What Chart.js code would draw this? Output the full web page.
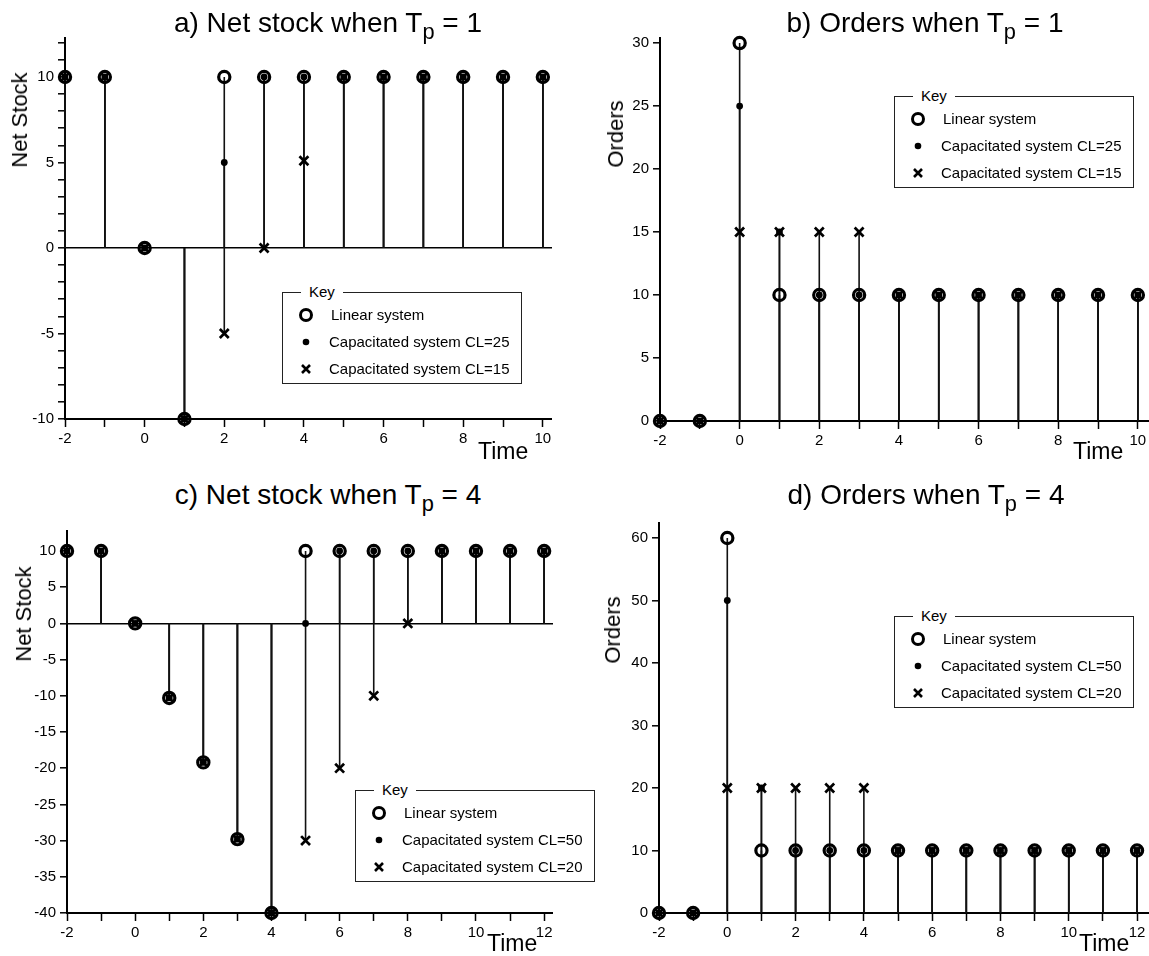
<!DOCTYPE html>
<html>
<head>
<meta charset="utf-8">
<script src="https://cdn.jsdelivr.net/npm/chart.js@4.4.1/dist/chart.umd.min.js"></script>
<style>
  body { margin: 0; background: #fff; }
  #fig { position: relative; width: 1149px; height: 956px; font-family: Arial, "Liberation Sans", sans-serif; color: #000; }
  canvas { position: absolute; }
  .title { position: absolute; font-size: 28px; line-height: 28px; white-space: nowrap; transform: translateX(-50%); }
  .title sub { font-size: 0.78em; vertical-align: -0.3em; line-height: 0; }
  .ylab { position: absolute; font-size: 22px; line-height: 22px; white-space: nowrap; transform: translate(-50%, -50%) rotate(-90deg); }
  .xlab { position: absolute; font-size: 23px; line-height: 23px; white-space: nowrap; }
  .key { position: absolute; width: 240px; height: 92px; border: 1px solid #222; box-sizing: border-box; font-size: 15px; }
  .key .kt { position: absolute; left: 18px; top: -10px; background: #fff; padding: 0 8px; line-height: 18px; }
  .key .row { position: absolute; left: 0; height: 20px; line-height: 20px; white-space: nowrap; }
  .key svg { position: absolute; left: 12px; top: 0; }
  .key span { position: absolute; top: 0; }
</style>
</head>
<body>
<div id="fig">
  <canvas id="chartA"></canvas>
  <canvas id="chartB"></canvas>
  <canvas id="chartC"></canvas>
  <canvas id="chartD"></canvas>

  <div class="title" style="left:328px; top:9px;">a) Net stock when T<sub>p</sub> = 1</div>
  <div class="title" style="left:925px; top:9px;">b) Orders when T<sub>p</sub> = 1</div>
  <div class="title" style="left:328px; top:481px;">c) Net stock when T<sub>p</sub> = 4</div>
  <div class="title" style="left:926px; top:481px;">d) Orders when T<sub>p</sub> = 4</div>

  <div class="ylab" style="left:20px; top:120px;">Net Stock</div>
  <div class="ylab" style="left:616px; top:134px;">Orders</div>
  <div class="ylab" style="left:24px; top:614px;">Net Stock</div>
  <div class="ylab" style="left:613px; top:630px;">Orders</div>

  <div class="xlab" style="left:478px; top:440px;">Time</div>
  <div class="xlab" style="left:1073px; top:440px;">Time</div>
  <div class="xlab" style="left:487px; top:932px;">Time</div>
  <div class="xlab" style="left:1079px; top:932px;">Time</div>

  <div class="key" id="keyA" style="left:282px; top:292px;"></div>
  <div class="key" id="keyB" style="left:894px; top:96px;"></div>
  <div class="key" id="keyC" style="left:355px; top:790px;"></div>
  <div class="key" id="keyD" style="left:894px; top:616px;"></div>
</div>

<script>
// time axis
const timesTp1 = [-2, -1, 0, 1, 2, 3, 4, 5, 6, 7, 8, 9, 10];
const timesTp4 = [-2, -1, 0, 1, 2, 3, 4, 5, 6, 7, 8, 9, 10, 11, 12];

// a) net stock, Tp = 1
const netStockTp1Linear = [10, 10, 0, -10, 10, 10, 10, 10, 10, 10, 10, 10, 10];
const netStockTp1CL25   = [10, 10, 0, -10, 5, 10, 10, 10, 10, 10, 10, 10, 10];
const netStockTp1CL15   = [10, 10, 0, -10, -5, 0, 5.1, 10, 10, 10, 10, 10, 10];

// b) orders, Tp = 1
const ordersTp1Linear = [0, 0, 30, 10, 10, 10, 10, 10, 10, 10, 10, 10, 10];
const ordersTp1CL25   = [0, 0, 25, 15, 10, 10, 10, 10, 10, 10, 10, 10, 10];
const ordersTp1CL15   = [0, 0, 15, 15, 15, 15, 10, 10, 10, 10, 10, 10, 10];

// c) net stock, Tp = 4
const netStockTp4Linear = [10, 10, 0, -10.3, -19.2, -29.8, -40, 10, 10, 10, 10, 10, 10, 10, 10];
const netStockTp4CL50   = [10, 10, 0, -10.3, -19.2, -29.8, -40, 0, 10, 10, 10, 10, 10, 10, 10];
const netStockTp4CL20   = [10, 10, 0, -10.3, -19.2, -29.8, -40, -30, -20, -10, 0, 10, 10, 10, 10];

// d) orders, Tp = 4
const ordersTp4Linear = [0, 0, 60, 10, 10, 10, 10, 10, 10, 10, 10, 10, 10, 10, 10];
const ordersTp4CL50   = [0, 0, 50, 20, 10, 10, 10, 10, 10, 10, 10, 10, 10, 10, 10];
const ordersTp4CL20   = [0, 0, 20, 20, 20, 20, 20, 10, 10, 10, 10, 10, 10, 10, 10];

const keyLabelsTp1 = ["Linear system", "Capacitated system CL=25", "Capacitated system CL=15"];
const keyLabelsTp4 = ["Linear system", "Capacitated system CL=50", "Capacitated system CL=20"];

const FONT = "Arial, 'Liberation Sans', sans-serif";
const Y_AXIS_W = 50;
const X_AXIS_H = 30;
const PAD_TOP = 12;

// vertical stem from 0 to each value, broken with null between stems
const stemPoints = (times, values) => {
  const pts = [];
  times.forEach((t, i) => {
    pts.push({ x: t, y: 0 }, { x: t, y: values[i] }, { x: t, y: null });
  });
  return pts;
};

const markerPoints = (times, values) => times.map((t, i) => ({ x: t, y: values[i] }));

const makePanel = (id, area, times, linear, capA, capB, xMax, yMin, yMax, yStep, yLabelEvery) => {
  const canvas = document.getElementById(id);
  const left = area.left - Y_AXIS_W;
  const top = area.top - PAD_TOP;
  canvas.style.left = left + "px";
  canvas.style.top = top + "px";
  canvas.width = area.right - left;
  canvas.height = area.bottom - top + X_AXIS_H;

  const stem = (values) => ({
    data: stemPoints(times, values),
    showLine: true,
    spanGaps: false,
    borderColor: "#111",
    borderWidth: 1.6,
    pointRadius: 0,
    clip: false,
  });

  new Chart(canvas, {
    type: "scatter",
    data: {
      datasets: [
        // drawn on top first
        {
          data: markerPoints(times, capB),
          pointStyle: "crossRot",
          pointRadius: 6.3,
          borderWidth: 2.7,
          borderColor: "#000",
          backgroundColor: "#000",
          clip: false,
        },
        {
          data: markerPoints(times, capA),
          pointStyle: "circle",
          pointRadius: 3.4,
          borderWidth: 0,
          backgroundColor: "#000",
          clip: false,
        },
        {
          data: markerPoints(times, linear),
          pointStyle: "circle",
          pointRadius: 5.6,
          borderWidth: 3.2,
          borderColor: "#000",
          backgroundColor: "rgba(0,0,0,0)",
          clip: false,
        },
        stem(linear),
        stem(capA),
        stem(capB),
      ],
    },
    options: {
      responsive: false,
      animation: false,
      events: [],
      layout: { padding: { top: PAD_TOP, left: 0, right: 0, bottom: 0 }, autoPadding: false },
      plugins: { legend: { display: false }, tooltip: { enabled: false } },
      scales: {
        x: {
          type: "linear",
          min: -2,
          max: xMax,
          afterFit: (s) => { s.height = X_AXIS_H; s.paddingLeft = 0; s.paddingRight = 0; },
          ticks: {
            stepSize: 1,
            includeBounds: false,
            autoSkip: false,
            maxRotation: 0,
            padding: 3,
            color: "#000",
            font: { family: FONT, size: 15 },
            callback: (v) => (v % 2 === 0 ? String(v) : ""),
          },
          grid: { drawOnChartArea: false, tickLength: 8, tickColor: "#000", tickWidth: 1.5 },
          border: { color: "#000", width: 2 },
        },
        y: {
          min: yMin,
          max: yMax,
          afterFit: (s) => { s.width = Y_AXIS_W; s.paddingTop = 0; s.paddingBottom = 0; },
          ticks: {
            stepSize: yStep,
            includeBounds: false,
            autoSkip: false,
            padding: 4,
            color: "#000",
            font: { family: FONT, size: 15 },
            callback: (v) => (v % yLabelEvery === 0 ? String(v) : ""),
          },
          grid: {
            color: (ctx) => (ctx.tick && ctx.tick.value === 0 ? "#000" : "rgba(0,0,0,0)"),
            lineWidth: 1.6,
            tickLength: 7,
            tickColor: "#000",
            tickWidth: 1.5,
          },
          border: { color: "#000", width: 2 },
        },
      },
    },
  });
};

makePanel("chartA", { left: 65, top: 38, right: 552, bottom: 419 }, timesTp1,
  netStockTp1Linear, netStockTp1CL25, netStockTp1CL15, 10.23, -10, 12.28, 1, 5);
makePanel("chartB", { left: 660, top: 38, right: 1149, bottom: 421 }, timesTp1,
  ordersTp1Linear, ordersTp1CL25, ordersTp1CL15, 10.28, 0, 30.4, 5, 5);
makePanel("chartC", { left: 67, top: 531, right: 553, bottom: 913 }, timesTp4,
  netStockTp4Linear, netStockTp4CL50, netStockTp4CL20, 12.26, -40, 12.76, 5, 5);
makePanel("chartD", { left: 659, top: 523, right: 1149, bottom: 913 }, timesTp4,
  ordersTp4Linear, ordersTp4CL50, ordersTp4CL20, 12.35, 0, 62.4, 10, 10);

// "Key" boxes
const keyMarkers = [
  '<svg width="22" height="20"><circle cx="11" cy="10" r="5.5" fill="none" stroke="#000" stroke-width="3"/></svg>',
  '<svg width="22" height="20"><circle cx="11" cy="10" r="3.3" fill="#000"/></svg>',
  '<svg width="22" height="20"><path d="M7 6 L15 14 M15 6 L7 14" stroke="#000" stroke-width="2.6"/></svg>',
];
const rowTops = [12, 39, 66];
const textLefts = [48, 46, 46];

const buildKey = (id, labels) => {
  const box = document.getElementById(id);
  let html = '<div class="kt">Key</div>';
  labels.forEach((label, i) => {
    html += '<div class="row" style="top:' + rowTops[i] + 'px">' + keyMarkers[i] +
      '<span style="left:' + textLefts[i] + 'px">' + label + '</span></div>';
  });
  box.innerHTML = html;
};

buildKey("keyA", keyLabelsTp1);
buildKey("keyB", keyLabelsTp1);
buildKey("keyC", keyLabelsTp4);
buildKey("keyD", keyLabelsTp4);
</script>
</body>
</html>
